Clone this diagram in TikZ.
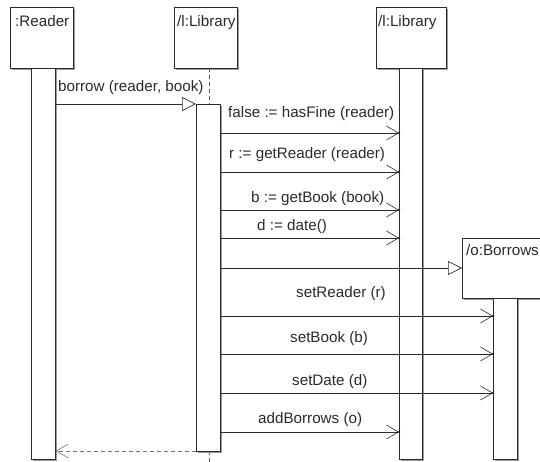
\documentclass[tikz,border=0pt]{standalone}
\usepackage{fontspec}
\setmainfont{Liberation Sans}
\usetikzlibrary{arrows.meta,shadows}
\definecolor{ink}{HTML}{2A2A2A}
\definecolor{shade}{HTML}{9A9A9A}
\begin{document}
\begin{tikzpicture}[x=1pt,y=-1pt,
  box/.style={draw=ink, fill=white, line width=0.8pt, inner sep=0pt, anchor=north west,
    drop shadow={shadow xshift=1.6pt, shadow yshift=-1.6pt, fill=shade, opacity=1}},
  lbl/.style={inner sep=0pt, anchor=base west, font=\fontsize{15.2}{17}\selectfont, text=ink},
  sync/.style={draw=ink, line width=0.7pt, -{Straight Barb[length=12pt,width=14pt,line width=0.6pt]}},
  tipdot/.style={fill=ink},
  create/.style={draw=ink, line width=0.7pt, -{Triangle[open,length=14pt,width=14pt,line width=0.7pt,fill=white]}},
  reply/.style={draw=black!55, line width=0.8pt, dash pattern=on 4pt off 3pt,
    -{Straight Barb[length=12pt,width=14pt,line width=0.6pt,sep=0pt]}},
  lifeline/.style={draw=black!65, line width=0.9pt, dash pattern=on 4pt off 3pt}
]
\useasboundingbox (0,0) rectangle (540,462);
\clip (0,0) rectangle (540,462);

% object boxes
\node[box, minimum width=63pt, minimum height=61pt] (reader) at (10,7) {};
\node[box, minimum width=63pt, minimum height=61pt] (libA) at (174,7) {};
\node[box, minimum width=70pt, minimum height=61pt] (libB) at (376,7) {};
\node[lbl] (readerLbl) at (15,27) {:Reader};
\node[lbl] (libALbl) at (177,27) {/l:Library};
\node[lbl] (libBLbl) at (378,27) {/l:Library};

% dashed lifeline of the first library before and after its activation
\coordinate (libAtop) at (209,68);
\coordinate (libAact) at (209,104);
\coordinate (libAend) at (209,451);
\coordinate (libAbottom) at (209,470);
\path[lifeline] (libAtop) -- (libAact);
\path[lifeline] (libAend) -- (libAbottom);

% activation bars
\node[box, minimum width=24pt, minimum height=391pt] (readerBar) at (31,68) {};
\node[box, minimum width=24pt, minimum height=347pt] (libABar) at (196,104) {};
\node[box, minimum width=23pt, minimum height=391pt] (libBBar) at (399,68) {};

% created object
\node[box, minimum width=90pt, minimum height=60pt] (borrows) at (462,238) {};
\node[lbl] (borrowsLbl) at (466,255) {/o:Borrows};
\node[box, minimum width=24pt, minimum height=161pt] (borrowsBar) at (493,298) {};

% incoming call
\path[create] (readerBar.east |- 0,104) -- (libABar.west |- 0,104);
\node[lbl] (mBorrow) at (58,92) {borrow (reader, book)};

% calls to the second library
\foreach \y/\n in {133/a,172/b,210/c,238/d,432/e}{
  \coordinate (s\n) at (libABar.east |- 0,\y);
  \coordinate (t\n) at (libBBar.west |- 0,\y);
  \path[sync] (s\n) -- (t\n);
  \fill[tipdot] (t\n) circle (1.3);
}
\node[lbl] (mFine) at (228,118) {false := hasFine (reader)};
\node[lbl] (mReader) at (229,159) {r := getReader (reader)};
\node[lbl] (mBook) at (251,203) {b := getBook (book)};
\node[lbl] (mDate) at (257,230) {d := date()};
\node[lbl] (mAdd) at (258,423) {addBorrows (o)};

% creation of the borrow object
\coordinate (cs) at (libABar.east |- 0,268);
\coordinate (ct) at (borrows.west |- 0,268);
\path[create] (cs) -- (ct);

% calls to the borrow object
\foreach \y/\n in {316/f,354/g,393/h}{
  \coordinate (s\n) at (libABar.east |- 0,\y);
  \coordinate (t\n) at (borrowsBar.west |- 0,\y);
  \path[sync] (s\n) -- (t\n);
  \fill[tipdot] (t\n) circle (1.3);
}
\node[lbl] (mSetR) at (296,297) {setReader (r)};
\node[lbl] (mSetB) at (290,342) {setBook (b)};
\node[lbl] (mSetD) at (292,385) {setDate (d)};

% return to the reader
\coordinate (rs) at (libABar.west |- 0,451);
\coordinate (rt) at (readerBar.east |- 0,451);
\path[reply] (rs) -- (rt);
\end{tikzpicture}
\end{document}
